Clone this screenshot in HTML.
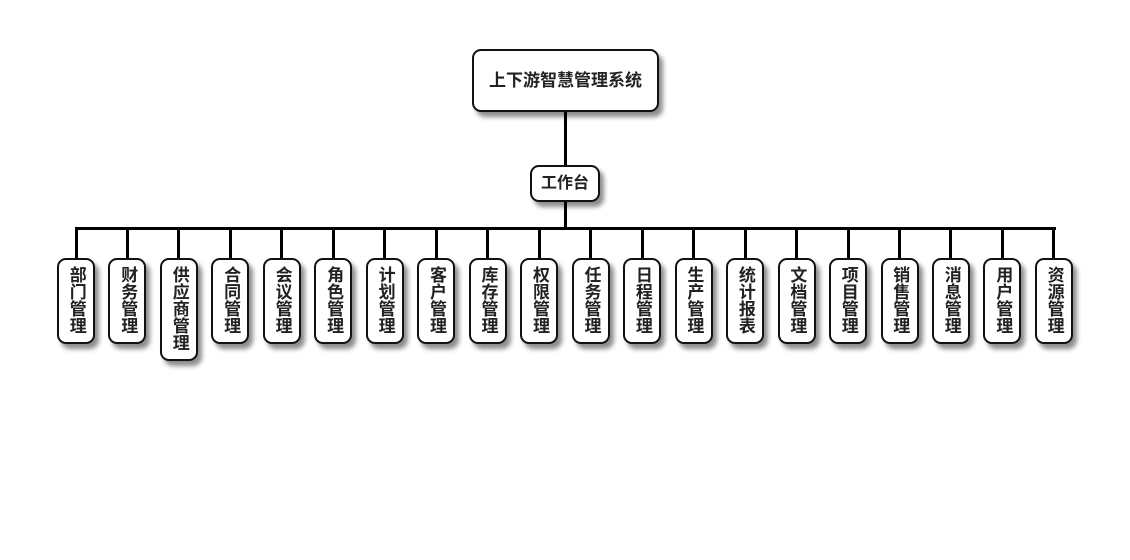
<!DOCTYPE html>
<html><head><meta charset="utf-8"><style>
body{margin:0;width:1130px;height:560px;background:#fff;position:relative;font-family:"Liberation Sans","Noto Sans CJK SC",sans-serif;overflow:hidden}
.b{position:absolute;background:#fff;border:2px solid #111;border-radius:9px;box-shadow:4px 5px 5px rgba(0,0,0,.45);box-sizing:border-box;font-weight:bold;color:#222;text-align:center}
.v{width:38px;top:258px;font-size:17px;line-height:17.5px;padding-top:6px;writing-mode:vertical-rl;text-orientation:upright;display:flex;align-items:center;justify-content:flex-start}
.l{position:absolute;background:#000}
</style></head><body>
<div class="l" style="left:564px;top:110px;width:3px;height:56px"></div>
<div class="l" style="left:564px;top:200px;width:3px;height:30px"></div>
<div class="l" style="left:75px;top:227px;width:981px;height:3px"></div>
<div class="b" style="left:472px;top:49px;width:187px;height:63px;font-size:17px;line-height:59px">上下游智慧管理系统</div>
<div class="b" style="left:530px;top:165px;width:70px;height:37px;font-size:16px;line-height:33px">工作台</div>
<div id="c"></div>
<script>
var n=["部门管理","财务管理","供应商管理","合同管理","会议管理","角色管理","计划管理","客户管理","库存管理","权限管理","任务管理","日程管理","生产管理","统计报表","文档管理","项目管理","销售管理","消息管理","用户管理","资源管理"];
var h="";
n.forEach(function(t,i){var cx=76+i*51.47;
h+='<div class="l" style="left:'+(cx-1.5)+'px;top:228px;width:3px;height:31px"></div>';
h+='<div class="b v" style="left:'+(cx-19)+'px;height:'+(t.length==5?103:86)+'px">'+t+'</div>';});
document.getElementById("c").innerHTML=h;
</script>
</body></html>
